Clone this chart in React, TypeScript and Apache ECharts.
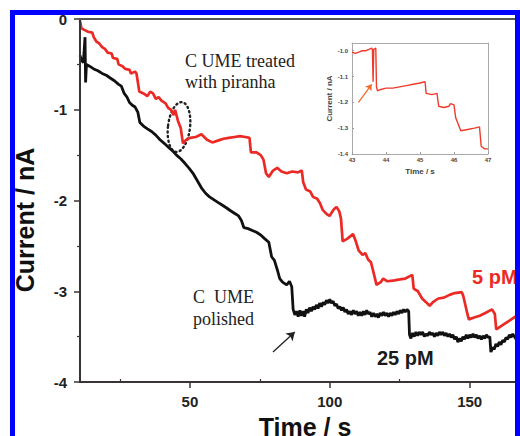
import React, { useEffect, useRef } from "react";
import * as echarts from "echarts";

// ---- Main chart data (Time / s, Current / nA) ----
const redTime = [10.7, 11.2, 12.2, 13.6, 15.1, 15.6, 16.6, 17.6, 18.6, 19.6, 20.6, 22.0, 22.5, 24.0, 24.5, 25.9, 26.9, 28.4, 28.9, 30.4, 30.9, 31.4, 31.9, 33.4, 34.8, 35.8, 36.8, 37.8, 38.8, 39.8, 41.3, 42.2, 43.2, 44.2, 44.7, 45.7, 46.7, 47.5, 48.7, 50.1, 52.1, 54.1, 56.1, 58.0, 60.0, 62.0, 63.9, 65.9, 67.9, 69.8, 71.3, 71.8, 73.8, 75.3, 76.3, 77.2, 78.2, 79.7, 81.2, 82.7, 84.6, 86.6, 88.6, 90.0, 90.5, 91.5, 93.0, 94.0, 95.5, 96.5, 97.4, 98.9, 99.9, 101.4, 102.4, 103.4, 104.0, 104.6, 106.3, 108.3, 109.3, 110.3, 111.7, 112.7, 113.7, 114.7, 115.7, 116.7, 118.2, 119.1, 120.6, 123.1, 125.1, 127.0, 129.5, 130.0, 131.5, 133.0, 134.4, 135.7, 136.9, 138.8, 140.8, 142.8, 144.7, 147.2, 147.7, 149.2, 149.7, 151.6, 153.6, 155.6, 158.0, 159.0, 159.5, 161.5, 163.4, 165.4, 166.9, 168.4];
const redCurrent = [-0.02, -0.10, -0.12, -0.14, -0.15, -0.20, -0.25, -0.27, -0.31, -0.33, -0.37, -0.38, -0.43, -0.44, -0.50, -0.52, -0.55, -0.56, -0.60, -0.58, -0.60, -0.70, -0.80, -0.82, -0.85, -0.80, -0.82, -0.88, -0.86, -0.90, -0.93, -0.98, -1.00, -1.06, -1.00, -1.12, -1.20, -1.37, -1.33, -1.31, -1.30, -1.27, -1.33, -1.36, -1.34, -1.32, -1.31, -1.30, -1.29, -1.30, -1.31, -1.47, -1.47, -1.50, -1.55, -1.70, -1.74, -1.67, -1.64, -1.68, -1.70, -1.68, -1.69, -1.67, -1.80, -1.88, -1.90, -1.96, -1.98, -2.03, -2.10, -2.15, -2.17, -2.10, -2.07, -2.12, -2.20, -2.45, -2.42, -2.37, -2.45, -2.55, -2.60, -2.58, -2.65, -2.68, -2.80, -2.93, -2.90, -2.86, -2.89, -2.88, -2.87, -2.86, -2.82, -2.97, -3.00, -3.08, -3.12, -3.16, -3.12, -3.08, -3.07, -3.04, -3.02, -3.01, -3.05, -3.25, -3.31, -3.29, -3.27, -3.24, -3.20, -3.25, -3.42, -3.38, -3.34, -3.30, -3.27, -3.24];

const blackTime = [10.7, 11.2, 11.9, 12.5, 12.7, 13.0, 14.1, 15.6, 17.1, 18.6, 20.1, 21.5, 23.0, 24.5, 25.5, 26.5, 27.5, 28.4, 29.4, 30.4, 31.4, 32.1, 33.4, 34.8, 36.3, 37.8, 39.3, 40.8, 42.2, 43.7, 45.2, 46.7, 48.2, 49.6, 51.1, 52.6, 54.1, 55.6, 57.0, 58.5, 60.0, 61.5, 63.0, 64.4, 65.9, 67.4, 68.4, 69.3, 70.8, 72.3, 73.8, 75.3, 76.7, 78.2, 79.2, 80.2, 81.2, 82.1, 83.1, 84.6, 85.6, 86.4,
  86.9, 87.5, 88.1, 88.7, 89.3, 89.9, 90.5, 91.0, 91.6, 92.2, 92.8, 93.4, 94.0, 94.6, 95.2, 95.8, 96.4, 97.0, 97.6, 98.2, 98.8, 99.4, 100.0, 100.6, 101.2, 101.8, 102.4, 103.0, 103.6, 104.2, 104.8, 105.4, 106.0, 106.6, 107.2, 107.8, 108.4, 109.0, 109.6, 110.2, 110.8, 111.4, 112.0, 112.6, 113.2, 113.8, 114.4, 115.0, 115.6, 116.2, 116.8, 117.4, 118.0, 118.6, 119.2, 119.8, 120.4, 121.0, 121.6, 122.2, 122.8, 123.4, 124.0, 124.6, 125.2, 125.8, 126.4, 127.0, 127.6, 128.2,
  128.5, 129.0, 129.6, 130.2, 130.8, 131.4, 132.0, 132.6, 133.2, 133.8, 134.4, 135.0, 135.6, 136.2, 136.8, 137.4, 138.0, 138.6, 139.2, 139.8, 140.4, 141.0, 141.6, 142.2, 142.8, 143.4, 144.0, 144.6, 145.2, 145.8, 146.4, 147.0, 147.6, 148.2, 148.8, 149.4, 150.0, 150.6, 151.2, 151.8, 152.4, 153.0, 153.6, 154.2, 154.8, 155.4, 156.0, 156.6, 157.2, 157.6, 158.2, 158.8, 159.4, 160.0, 160.6, 161.2, 161.8, 162.4, 163.0, 163.6, 164.2, 164.8, 165.4, 166.0, 166.6, 167.2, 167.8, 168.4];
const blackCurrent = [-0.40, -0.45, -0.48, -0.20, -0.70, -0.50, -0.52, -0.55, -0.57, -0.60, -0.62, -0.65, -0.68, -0.72, -0.74, -0.82, -0.86, -0.92, -0.95, -0.97, -1.03, -1.14, -1.18, -1.21, -1.24, -1.28, -1.33, -1.37, -1.41, -1.45, -1.50, -1.54, -1.59, -1.64, -1.70, -1.78, -1.86, -1.92, -1.96, -1.99, -2.02, -2.05, -2.08, -2.11, -2.14, -2.17, -2.22, -2.30, -2.31, -2.33, -2.35, -2.38, -2.42, -2.46, -2.62, -2.66, -2.76, -2.86, -2.90, -2.93, -2.89, -2.95,
  -3.20, -3.26, -3.22, -3.28, -3.21, -3.27, -3.22, -3.28, -3.20, -3.24, -3.18, -3.22, -3.17, -3.20, -3.15, -3.19, -3.13, -3.17, -3.12, -3.15, -3.10, -3.13, -3.09, -3.13, -3.11, -3.16, -3.14, -3.19, -3.17, -3.21, -3.18, -3.23, -3.20, -3.25, -3.22, -3.26, -3.21, -3.25, -3.22, -3.27, -3.23, -3.27, -3.22, -3.26, -3.21, -3.25, -3.23, -3.28, -3.24, -3.28, -3.25, -3.29, -3.24, -3.27, -3.23, -3.27, -3.24, -3.28, -3.24, -3.27, -3.23, -3.26, -3.22, -3.25, -3.21, -3.24, -3.20, -3.23, -3.20, -3.22,
  -3.48, -3.52, -3.46, -3.50, -3.45, -3.49, -3.45, -3.48, -3.45, -3.50, -3.47, -3.49, -3.45, -3.48, -3.46, -3.50, -3.46, -3.49, -3.45, -3.48, -3.45, -3.49, -3.46, -3.50, -3.47, -3.51, -3.48, -3.53, -3.50, -3.56, -3.52, -3.55, -3.50, -3.53, -3.48, -3.52, -3.48, -3.51, -3.47, -3.51, -3.48, -3.52, -3.49, -3.53, -3.49, -3.52, -3.48, -3.51, -3.50, -3.67, -3.62, -3.64, -3.58, -3.61, -3.56, -3.59, -3.54, -3.56, -3.51, -3.53, -3.48, -3.51, -3.47, -3.50, -3.53, -3.57, -3.54, -3.58];

const xMajorTicks = [50, 100, 150];
const xMinorTicks = [25, 75, 125];
const arrowFrom = [79.7, -3.67];
const arrowTo = [87.5, -3.45];

// ---- Inset data ----
const insetTime = [43.0, 43.1, 43.2, 43.3, 43.4, 43.5, 43.58, 43.6, 43.62, 43.64, 43.7, 43.72, 43.75, 43.85, 44.0, 44.2, 44.4, 44.6, 44.8, 45.0, 45.15, 45.18, 45.35, 45.5, 45.55, 45.7, 45.85, 45.9, 46.0, 46.05, 46.2, 46.4, 46.6, 46.75, 46.8, 46.9, 47.0];
const insetCurrent = [-1.005, -1.01, -1.005, -1.0, -1.0, -0.995, -0.99, -0.995, -1.12, -0.995, -0.99, -1.14, -1.155, -1.15, -1.145, -1.145, -1.14, -1.135, -1.13, -1.125, -1.12, -1.165, -1.17, -1.165, -1.215, -1.22, -1.215, -1.205, -1.21, -1.26, -1.31, -1.305, -1.30, -1.295, -1.37, -1.38, -1.38];
const insetXTicks = [43, 44, 45, 46, 47];
const insetYTicks = [-1.4, -1.3, -1.2, -1.1, -1.0];
const insetArrowFrom = [43.19, -1.2];
const insetArrowTo = [43.58, -1.13];

const zip = (a: number[], b: number[]) => a.map((v, i) => [v, b[i]]);
const SANS = "Liberation Sans, Arial, sans-serif";
const SERIF = "Liberation Serif, Times New Roman, serif";

// main plot frame (layout)
const G_LEFT = 80;
const G_TOP = 19;
const G_W = 440;
const G_H = 363;
const AXIS_COLOR = "#3a3535";

export default function App() {
  const ref = useRef<HTMLDivElement>(null);
  useEffect(() => {
    if (!ref.current) return;
    const chart = echarts.init(ref.current, null, { renderer: "svg" });
    chart.setOption({
      animation: false,
      grid: [
        { left: G_LEFT, top: G_TOP, width: G_W, height: G_H, show: true, borderColor: AXIS_COLOR, borderWidth: 2, backgroundColor: "transparent" },
        { left: 352, top: 43, width: 136, height: 111 },
      ],
      xAxis: [
        {
          gridIndex: 0, type: "value", min: 10.7, max: 168, position: "bottom",
          axisLine: { show: true, onZero: false, lineStyle: { color: AXIS_COLOR, width: 2 } },
          axisTick: { show: true, length: 6, customValues: xMajorTicks, lineStyle: { color: AXIS_COLOR, width: 1.5 } },
          axisLabel: { customValues: xMajorTicks, margin: 12, fontFamily: SANS, fontWeight: "bold", fontSize: 15, color: "#222" },
          splitLine: { show: false },
        },
        {
          gridIndex: 0, type: "value", min: 10.7, max: 168, position: "top", offset: -G_H,
          axisLine: { show: false, onZero: false },
          axisTick: { show: true, length: 3, customValues: xMinorTicks, lineStyle: { color: AXIS_COLOR, width: 1.2 } },
          axisLabel: { show: false },
          splitLine: { show: false },
        },
        {
          gridIndex: 1, type: "value", min: 43, max: 47, position: "bottom",
          axisLine: { show: true, onZero: false, lineStyle: { color: "#aaa", width: 1 } },
          axisTick: { show: true, inside: true, length: 2, customValues: insetXTicks, lineStyle: { color: "#999" } },
          axisLabel: { customValues: insetXTicks, margin: 3, fontFamily: SANS, fontWeight: "bold", fontSize: 6, color: "#444" },
          splitLine: { show: false },
          name: "Time / s", nameLocation: "middle", nameGap: 13,
          nameTextStyle: { fontFamily: SANS, fontWeight: "bold", fontSize: 8, color: "#444" },
        },
        {
          gridIndex: 1, type: "value", min: 43, max: 47, position: "top",
          axisLine: { show: true, onZero: false, lineStyle: { color: "#aaa", width: 1 } },
          axisTick: { show: false }, axisLabel: { show: false }, splitLine: { show: false },
        },
      ],
      yAxis: [
        {
          gridIndex: 0, type: "value", min: -4, max: 0, interval: 1, position: "left",
          axisLine: { show: true, onZero: false, lineStyle: { color: AXIS_COLOR, width: 2 } },
          axisTick: { show: true, length: 6, lineStyle: { color: AXIS_COLOR, width: 1.5 } },
          minorTick: { show: true, splitNumber: 2, length: 3, lineStyle: { color: AXIS_COLOR, width: 1.2 } },
          axisLabel: { margin: 13, fontFamily: SANS, fontWeight: "bold", fontSize: 15, color: "#222" },
          splitLine: { show: false },
        },
        {
          gridIndex: 1, type: "value", min: -1.4, max: -0.97, position: "left",
          axisLine: { show: true, onZero: false, lineStyle: { color: "#aaa", width: 1 } },
          axisTick: { show: true, inside: true, length: 2, customValues: insetYTicks, lineStyle: { color: "#999" } },
          axisLabel: { customValues: insetYTicks, margin: 4, fontFamily: SANS, fontWeight: "bold", fontSize: 6, color: "#444", formatter: (v: number) => v.toFixed(1) },
          splitLine: { show: false },
          name: "Current / nA", nameLocation: "middle", nameGap: 17, nameRotate: 90,
          nameTextStyle: { fontFamily: SANS, fontWeight: "bold", fontSize: 8, color: "#444" },
        },
        {
          gridIndex: 1, type: "value", min: -1.4, max: -0.97, position: "right",
          axisLine: { show: true, onZero: false, lineStyle: { color: "#aaa", width: 1 } },
          axisTick: { show: false }, axisLabel: { show: false }, splitLine: { show: false },
        },
      ],
      series: [
        {
          name: "5 pM", type: "line", xAxisIndex: 0, yAxisIndex: 0,
          data: zip(redTime, redCurrent), showSymbol: false,
          lineStyle: { color: "#ec2a25", width: 2.7 }, z: 3,
        },
        {
          name: "25 pM", type: "line", xAxisIndex: 0, yAxisIndex: 0,
          data: zip(blackTime, blackCurrent), showSymbol: false,
          lineStyle: { color: "#111111", width: 2.8 }, z: 4,
          markLine: {
            silent: true, symbol: ["none", "arrow"], symbolSize: 8, label: { show: false },
            lineStyle: { color: "#222", width: 1.3, type: "solid" },
            data: [[{ coord: arrowFrom }, { coord: arrowTo }]],
          },
        },
        {
          name: "inset", type: "line", xAxisIndex: 2, yAxisIndex: 1,
          data: zip(insetTime, insetCurrent), showSymbol: false,
          lineStyle: { color: "#ee3b2b", width: 1.4 }, z: 5,
          markLine: {
            silent: true, symbol: ["none", "arrow"], symbolSize: 6, label: { show: false },
            lineStyle: { color: "#f06a2a", width: 1.3, type: "solid" },
            itemStyle: { color: "#f0a020" },
            data: [[{ coord: insetArrowFrom }, { coord: insetArrowTo }]],
          },
        },
      ],
      graphic: [
        // main plot frame as filled bars, drawn on top
        { type: "rect", z: 200, shape: { x: G_LEFT - 1, y: G_TOP - 1, width: 2, height: G_H + 2 }, style: { fill: AXIS_COLOR } },
        { type: "rect", z: 200, shape: { x: G_LEFT - 1, y: G_TOP + G_H - 1, width: G_W + 1, height: 2 }, style: { fill: AXIS_COLOR } },
        { type: "rect", z: 200, shape: { x: G_LEFT - 1, y: G_TOP - 1, width: G_W + 1, height: 2 }, style: { fill: "#555" } },
        { type: "text", x: 185, y: 61, style: { text: "C UME treated", font: `18px ${SERIF}`, fill: "#222", verticalAlign: "middle" } },
        { type: "text", x: 185, y: 82, style: { text: "with piranha", font: `18px ${SERIF}`, fill: "#222", verticalAlign: "middle" } },
        { type: "text", x: 193, y: 297, style: { text: "C  UME", font: `18px ${SERIF}`, fill: "#222", verticalAlign: "middle" } },
        { type: "text", x: 193, y: 319, style: { text: "polished", font: `18px ${SERIF}`, fill: "#222", verticalAlign: "middle" } },
        { type: "text", x: 472, y: 277, style: { text: "5 pM", font: `bold 20px ${SANS}`, fill: "#ec2a25", verticalAlign: "middle" } },
        { type: "text", x: 377, y: 358, style: { text: "25 pM", font: `bold 20px ${SANS}`, fill: "#1a1a1a", verticalAlign: "middle" } },
        {
          type: "ellipse", x: 179, y: 127, rotation: -0.12,
          shape: { cx: 0, cy: 0, rx: 11, ry: 25 },
          style: { fill: "none", stroke: "#222", lineWidth: 2.4, lineDash: [1.2, 3.4], lineCap: "round" },
        },
        { type: "text", x: 305, y: 414, style: { text: "Time / s", font: `bold 25px ${SANS}`, fill: "#111", align: "center", verticalAlign: "top" } },
        { type: "text", x: 25, y: 220, rotation: Math.PI / 2, style: { text: "Current / nA", font: `bold 25px ${SANS}`, fill: "#111", align: "center", verticalAlign: "middle" } },
        { type: "rect", z: 300, shape: { x: 10, y: 10, width: 510, height: 5 }, style: { fill: "#0000ff" } },
        { type: "rect", z: 300, shape: { x: 10, y: 10, width: 5, height: 426 }, style: { fill: "#0000ff" } },
        { type: "rect", z: 300, shape: { x: 515, y: 10, width: 5, height: 426 }, style: { fill: "#0000ff" } },
      ],
    });
    return () => chart.dispose();
  }, []);
  return (
    <div
      ref={ref}
      style={{ position: "absolute", left: 0, top: 0, width: 520, height: 436, background: "#fff" }}
    />
  );
}
